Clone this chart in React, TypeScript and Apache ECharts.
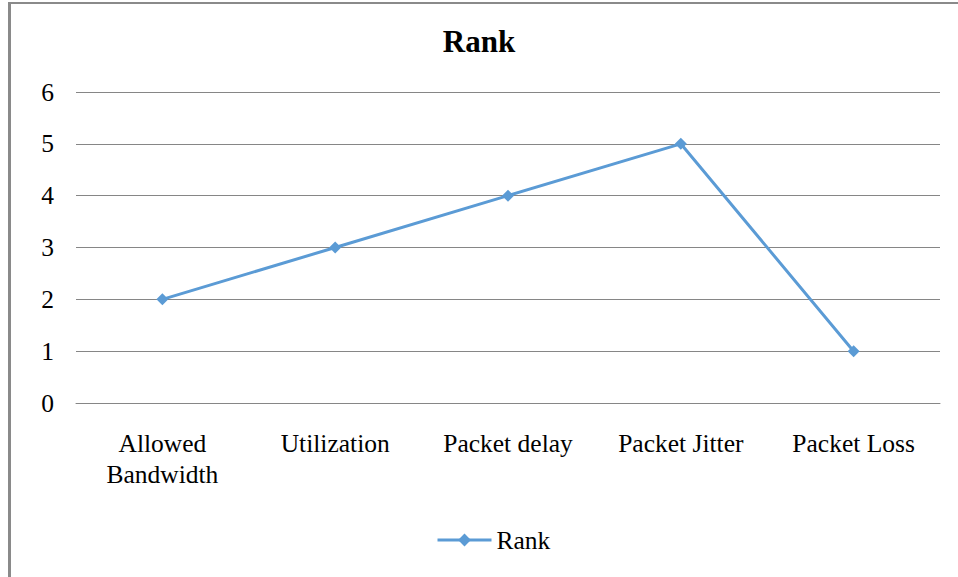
import React, { useEffect, useRef } from "react";
import * as echarts from "echarts";

const categories = ["Allowed\nBandwidth", "Utilization", "Packet delay", "Packet Jitter", "Packet Loss"];
const rankValues = [2, 3, 4, 5, 1];
const yTicks = { min: 0, max: 6, interval: 1 };

export default function App() {
  const ref = useRef<HTMLDivElement>(null);
  useEffect(() => {
    if (!ref.current) return;
    const chart = echarts.init(ref.current, null, { renderer: "svg" });
    const font = "'Liberation Serif', 'Times New Roman', serif";
    chart.setOption({
      animation: false,
      backgroundColor: "#ffffff",
      title: {
        text: "Rank",
        left: "center",
        top: 21,
        textStyle: { fontFamily: font, fontSize: 31, fontWeight: "bold", color: "#000" },
      },
      grid: { left: 76, right: 18, top: 92, bottom: 174 },
      xAxis: {
        type: "category",
        data: categories,
        boundaryGap: true,
        axisLine: { show: true, lineStyle: { color: "#868686", width: 1 } },
        axisTick: { show: false },
        axisLabel: {
          fontFamily: font,
          fontSize: 25.5,
          color: "#000",
          margin: 25,
          lineHeight: 31,
          interval: 0,
        },
      },
      yAxis: {
        type: "value",
        min: yTicks.min,
        max: yTicks.max,
        interval: yTicks.interval,
        axisLine: { show: false },
        axisTick: { show: false },
        axisLabel: { fontFamily: font, fontSize: 25.5, color: "#000", margin: 22 },
        splitLine: { lineStyle: { color: "#868686", width: 1 } },
      },
      legend: {
        bottom: 19,
        left: 431,
        itemWidth: 54,
        itemHeight: 16,
        itemGap: 6,
        textStyle: { fontFamily: font, fontSize: 25.5, color: "#000" },
        lineStyle: { width: 3 },
        data: ["Rank"],
      },
      series: [
        {
          name: "Rank",
          type: "line",
          data: rankValues,
          symbol: "diamond",
          symbolSize: 12,
          lineStyle: { color: "#5B9BD5", width: 3 },
          itemStyle: { color: "#5B9BD5" },
        },
      ],
      graphic: [
        {
          type: "line",
          shape: { x1: 9.5, y1: 2, x2: 9.5, y2: 577 },
          style: { stroke: "#8a8a8a", lineWidth: 3 },
        },
        {
          type: "line",
          shape: { x1: 8, y1: 3, x2: 958, y2: 3 },
          style: { stroke: "#8a8a8a", lineWidth: 2 },
        },
      ],
    });
    return () => chart.dispose();
  }, []);
  return (
    <div
      ref={ref}
      style={{ position: "absolute", left: 0, top: 0, width: 958, height: 577 }}
    />
  );
}
